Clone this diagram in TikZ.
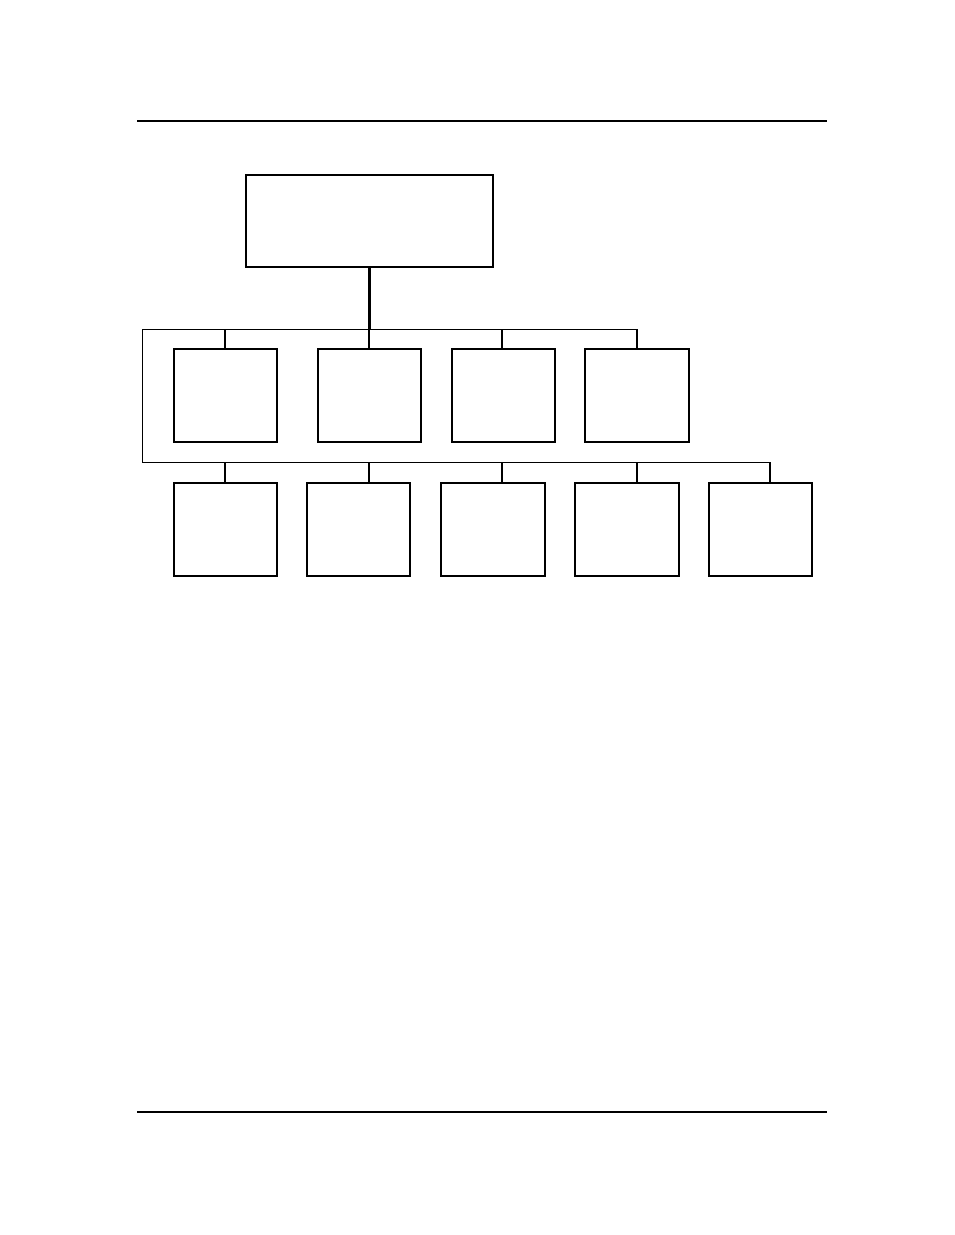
\documentclass[tikz,border=0pt]{standalone}
\begin{document}
\begin{tikzpicture}[x=1pt,y=-1pt,
  box/.style={draw,line width=1.2pt,inner sep=0pt,outer sep=0pt,minimum width=103pt,minimum height=93pt},
  topbox/.style={draw,line width=1.4pt,inner sep=0pt,outer sep=0pt,minimum width=247pt,minimum height=92pt},
  bus/.style={line width=0.9pt},
  link/.style={line width=1.1pt},
  trunk/.style={line width=2.3pt},
  rule/.style={line width=1.2pt}]
\useasboundingbox (0,0) rectangle (954,1235);
% page rules
\coordinate (hl) at (137,121); \coordinate (hr) at (827,121);
\coordinate (fl) at (137,1112); \coordinate (fr) at (827,1112);
\draw[rule] (hl) -- (hr);
\draw[rule] (fl) -- (fr);
% top box
\node[topbox] (top) at (369.5,221) {};
% buses
\coordinate (aL) at (142,329); \coordinate (aR) at (637,329);
\coordinate (bL) at (142,462); \coordinate (bR) at (770,462);
\draw[bus] (aR) -- (aL) -- (bL) -- (bR);
\draw[trunk] (top.south) -- (top.south |- aL);
% row 1
\node[box] (r1) at (225.5,395.5) {};
\node[box] (r2) at (369.5,395.5) {};
\node[box] (r3) at (503.5,395.5) {};
\node[box,minimum width=104pt] (r4) at (637,395.5) {};
% row 2
\node[box] (s1) at (225.5,529.5) {};
\node[box] (s2) at (358.5,529.5) {};
\node[box,minimum width=104pt] (s3) at (493,529.5) {};
\node[box,minimum width=104pt] (s4) at (627,529.5) {};
\node[box] (s5) at (760.5,529.5) {};
% links row 1
\coordinate (p1) at (225,329); \coordinate (p2) at (369,329);
\coordinate (p3) at (502,329); \coordinate (p4) at (637,329);
\draw[trunk] (p1) -- (p1 |- r1.north);
\draw[trunk] (p2) -- (p2 |- r2.north);
\draw[link] (p3) -- (p3 |- r3.north);
\draw[link] (p4) -- (p4 |- r4.north);
% links row 2
\coordinate (q1) at (225,462); \coordinate (q2) at (369,462);
\coordinate (q3) at (502,462); \coordinate (q4) at (637,462);
\coordinate (q5) at (770,462);
\draw[link] (q1) -- (q1 |- s1.north);
\draw[link] (q2) -- (q2 |- s2.north);
\draw[link] (q3) -- (q3 |- s3.north);
\draw[link] (q4) -- (q4 |- s4.north);
\draw[link] (q5) -- (q5 |- s5.north);
\end{tikzpicture}
\end{document}
